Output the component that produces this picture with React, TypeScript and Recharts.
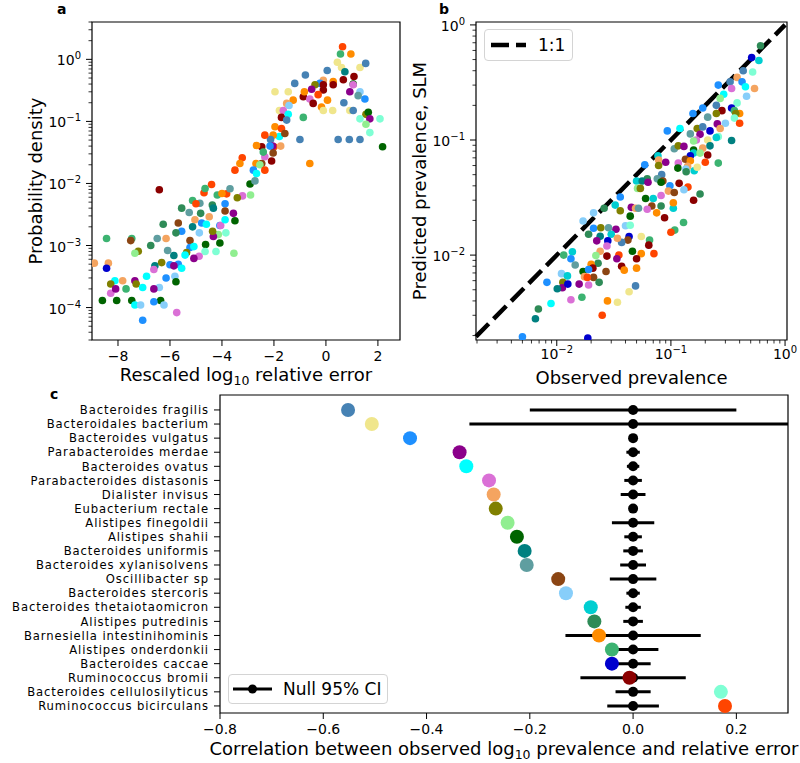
import React from 'react';
import { ScatterChart, Scatter, XAxis, YAxis, ReferenceArea, ReferenceLine, ErrorBar, Legend, Label } from 'recharts';

const FONT = "'DejaVu Sans', sans-serif";

const speciesNames = [
  'Bacteroides fragilis', 'Bacteroidales bacterium', 'Bacteroides vulgatus', 'Parabacteroides merdae',
  'Bacteroides ovatus', 'Parabacteroides distasonis', 'Dialister invisus', 'Eubacterium rectale',
  'Alistipes finegoldii', 'Alistipes shahii', 'Bacteroides uniformis', 'Bacteroides xylanisolvens',
  'Oscillibacter sp', 'Bacteroides stercoris', 'Bacteroides thetaiotaomicron', 'Alistipes putredinis',
  'Barnesiella intestinihominis', 'Alistipes onderdonkii', 'Bacteroides caccae', 'Ruminococcus bromii',
  'Bacteroides cellulosilyticus', 'Ruminococcus bicirculans',
];

const speciesColors = [
  '#4682B4', '#F0E68C', '#1E90FF', '#8B008B', '#00FFFF', '#DA70D6', '#F4A460', '#808000',
  '#90EE90', '#006400', '#008080', '#5F9EA0', '#8B4513', '#87CEFA', '#00CED1', '#2E8B57',
  '#FF8C00', '#3CB371', '#0000CD', '#8B0000', '#7FFFD4', '#FF4500',
];

const correlations = [
  -0.552, -0.506, -0.432, -0.336, -0.323, -0.279, -0.27, -0.266, -0.243, -0.225, -0.21,
  -0.206, -0.145, -0.13, -0.082, -0.075, -0.066, -0.041, -0.041, -0.007, 0.17, 0.178,
];

const nullCenters = [0, 0, 0, 0, 0, 0, 0, 0, 0, 0, 0, 0, 0, 0, 0, 0, 0, 0, 0, 0, 0, 0];

const nullCI = [
  0.2, 0.317, 0.006, 0.013, 0.012, 0.017, 0.024, 0.008, 0.041, 0.017, 0.019,
  0.025, 0.045, 0.013, 0.015, 0.019, 0.131, 0.049, 0.034, 0.102, 0.034, 0.05,
];

// panel a: [rescaled log10 relative error, probability density, species index]
const panelAPoints: [number, number, number][] = [
  [0.64, 1.6, 21], [0.56, 1.22, 17], [0.96, 1.22, 16], [0.44, 0.9, 1], [0.6, 0.74, 1], [1.31, 0.74, 1],
  [1.53, 0.86, 0], [0.73, 0.63, 10], [0.05, 0.66, 0], [-0.79, 0.56, 0], [1.08, 0.53, 19], [1.05, 0.4, 9],
  [0.67, 0.47, 19], [-1.2, 0.41, 0], [-1.96, 0.3, 1], [-1.45, 0.3, 1], [-0.1, 0.46, 6], [-0.23, 0.41, 2],
  [0.28, 0.44, 16], [-0.42, 0.39, 7], [-0.1, 0.39, 19], [0.28, 0.39, 19], [-0.55, 0.33, 3], [-0.1, 0.32, 19],
  [-0.87, 0.25, 19], [-0.62, 0.23, 5], [-0.49, 0.195, 19], [-0.83, 0.3, 16], [-0.3, 0.27, 21], [0.06, 0.22, 16],
  [-0.17, 0.17, 16], [-0.1, 0.15, 1], [0.26, 0.15, 1], [0.92, 0.15, 1], [0.69, 0.2, 0], [1.31, 0.3, 13],
  [1.24, 0.26, 11], [1.5, 0.23, 2], [0.92, 0.3, 3], [1.05, 0.39, 5], [1.05, 0.15, 0], [1.54, 0.13, 7],
  [1.63, 0.14, 9], [1.69, 0.11, 3], [1.31, 0.11, 20], [1.54, 0.09, 8], [2.08, 0.11, 20], [1.69, 0.066, 20],
  [2.18, 0.039, 9], [0.47, 0.051, 0], [0.9, 0.051, 0], [1.31, 0.051, 0], [-1.0, 0.051, 0], [-0.62, 0.021, 16],
  [-0.87, 0.116, 17], [-1.79, 0.15, 1], [-1.26, 0.22, 16], [-1.51, 0.195, 6], [-1.42, 0.18, 13], [-1.64, 0.15, 5],
  [-1.71, 0.116, 19], [-1.45, 0.13, 4], [-1.51, 0.105, 0], [-1.96, 0.082, 16], [-1.71, 0.077, 21], [-1.79, 0.057, 4],
  [-1.58, 0.064, 12], [-2.03, 0.06, 16], [-2.13, 0.051, 0], [-2.0, 0.039, 21], [-2.05, 0.04, 3], [-2.15, 0.04, 2],
  [-1.74, 0.04, 6], [-2.47, 0.039, 19], [-2.35, 0.06, 21], [-2.09, 0.023, 19], [-2.03, 0.031, 12], [-2.67, 0.041, 16],
  [-2.69, 0.021, 16], [-2.35, 0.027, 5], [-2.41, 0.032, 17], [-2.47, 0.021, 12], [-2.54, 0.02, 8], [-3.22, 0.026, 21],
  [-3.31, 0.021, 16], [-3.5, 0.0164, 21], [-2.79, 0.0164, 2], [-2.35, 0.0164, 21], [-2.92, 0.0098, 9], [-2.67, 0.0145, 4],
  [-2.73, 0.011, 11], [-2.9, 0.0065, 8], [-4.4, 0.0096, 21], [-6.41, 0.0079, 19], [-4.69, 0.0071, 21], [-4.18, 0.0065, 17],
  [-3.82, 0.0068, 21], [-4.0, 0.0069, 16], [-3.69, 0.0082, 11], [-3.21, 0.0063, 5], [-3.41, 0.0059, 7], [-5.13, 0.0053, 17],
  [-4.65, 0.0083, 17], [-5.55, 0.004, 15], [-4.85, 0.0048, 11], [-4.37, 0.0045, 15], [-5.0, 0.0047, 21], [-5.26, 0.0034, 11],
  [-4.82, 0.0033, 15], [-3.88, 0.0047, 2], [-4.33, 0.004, 10], [-3.88, 0.0036, 12], [-3.56, 0.0033, 3], [-6.26, 0.0022, 15],
  [-5.68, 0.0023, 12], [-5.04, 0.0026, 6], [-4.78, 0.0023, 2], [-3.5, 0.0025, 9], [-4.49, 0.0029, 6], [-4.6, 0.0022, 4],
  [-4.08, 0.0021, 2], [-5.13, 0.002, 10], [-5.55, 0.0017, 2], [-5.77, 0.0016, 15], [-6.15, 0.0013, 6], [-6.49, 0.0013, 11],
  [-8.44, 0.0013, 17], [-7.47, 0.0013, 17], [-7.51, 0.0012, 12], [-6.74, 0.001, 15], [-7.22, 0.00081, 7], [-7.35, 0.00075, 8],
  [-6.09, 0.00083, 11], [-5.85, 0.00069, 10], [-5.23, 0.0012, 12], [-5.23, 0.00093, 2], [-5.08, 0.00096, 4], [-4.63, 0.00104, 9],
  [-4.08, 0.0011, 9], [-4.14, 0.0015, 8], [-4.33, 0.0014, 3], [-4.87, 0.0016, 13], [-4.36, 0.0017, 7], [-4.05, 0.0021, 5],
  [-3.88, 0.0026, 4], [-3.85, 0.0016, 20], [-4.23, 0.0008, 20], [-3.54, 0.00075, 8], [-4.65, 0.0008, 20], [-5.36, 0.00077, 7],
  [-5.42, 0.0007, 4], [-4.88, 0.00067, 5], [-5.08, 0.00062, 3], [-5.68, 0.0005, 2], [-5.55, 0.00043, 4], [-6.58, 0.00047, 10],
  [-6.62, 0.00041, 5], [-6.32, 0.00053, 7], [-6.0, 0.00049, 2], [-5.85, 0.00047, 3], [-5.81, 0.00032, 13], [-6.15, 0.0003, 2],
  [-5.77, 0.00026, 9], [-6.9, 0.00032, 4], [-8.91, 0.00052, 6], [-8.37, 0.00052, 6], [-8.44, 0.00043, 18], [-8.12, 0.00027, 4],
  [-8.28, 0.00024, 7], [-8.28, 0.00017, 5], [-8.09, 0.0002, 3], [-7.82, 0.00027, 6], [-7.69, 0.0002, 17], [-7.35, 0.00027, 3],
  [-7.3, 0.00024, 7], [-7.05, 0.00021, 4], [-6.41, 0.00021, 13], [-6.62, 0.0002, 3], [-8.6, 0.00013, 9], [-8.05, 0.00013, 9],
  [-7.47, 0.00013, 9], [-7.35, 0.00011, 4], [-7.13, 0.00011, 13], [-6.36, 0.00013, 9], [-6.62, 0.000124, 2], [-6.23, 0.00011, 13],
  [-5.74, 0.000083, 5], [-7.05, 0.0000626, 2],
];

// panel b: [observed prevalence, predicted prevalence, species index]
const panelBPoints: [number, number, number][] = [
  [0.61, 0.66, 15], [0.51, 0.52, 18], [0.59, 0.49, 14], [0.52, 0.39, 20], [0.43, 0.4, 0], [0.38, 0.35, 6],
  [0.42, 0.32, 2], [0.33, 0.32, 0], [0.26, 0.3, 2], [0.45, 0.29, 4], [0.54, 0.28, 6], [0.34, 0.28, 5],
  [0.29, 0.25, 4], [0.46, 0.24, 13], [0.27, 0.23, 8], [0.38, 0.21, 20], [0.19, 0.19, 2], [0.25, 0.2, 0],
  [0.28, 0.18, 19], [0.34, 0.19, 18], [0.36, 0.18, 17], [0.4, 0.17, 16], [0.37, 0.17, 7], [0.36, 0.155, 20],
  [0.4, 0.14, 21], [0.156, 0.17, 2], [0.25, 0.17, 7], [0.21, 0.158, 11], [0.255, 0.138, 3], [0.3, 0.14, 13],
  [0.093, 0.12, 2], [0.12, 0.126, 4], [0.17, 0.126, 7], [0.19, 0.13, 0], [0.22, 0.12, 18], [0.27, 0.126, 6],
  [0.148, 0.113, 11], [0.18, 0.112, 3], [0.167, 0.1, 5], [0.158, 0.098, 8], [0.21, 0.1, 1], [0.26, 0.107, 20],
  [0.25, 0.105, 14], [0.34, 0.099, 10], [0.107, 0.084, 11], [0.116, 0.089, 7], [0.13, 0.088, 3], [0.158, 0.082, 9],
  [0.19, 0.085, 6], [0.22, 0.089, 10], [0.158, 0.077, 14], [0.148, 0.073, 18], [0.18, 0.077, 8], [0.21, 0.074, 19],
  [0.134, 0.068, 12], [0.148, 0.066, 16], [0.077, 0.073, 14], [0.078, 0.067, 6], [0.09, 0.064, 3], [0.116, 0.063, 5],
  [0.2, 0.064, 21], [0.14, 0.059, 6], [0.115, 0.057, 9], [0.078, 0.06, 7], [0.135, 0.056, 13], [0.059, 0.061, 2],
  [0.136, 0.053, 15], [0.16, 0.054, 14], [0.17, 0.058, 1], [0.083, 0.05, 0], [0.26, 0.063, 17], [0.076, 0.046, 11],
  [0.062, 0.046, 15], [0.05, 0.044, 14], [0.056, 0.044, 10], [0.063, 0.043, 3], [0.085, 0.044, 12], [0.082, 0.043, 9],
  [0.098, 0.04, 2], [0.118, 0.042, 19], [0.141, 0.039, 21], [0.18, 0.034, 15], [0.051, 0.038, 8], [0.054, 0.038, 7],
  [0.095, 0.036, 6], [0.107, 0.035, 12], [0.158, 0.03, 19], [0.082, 0.033, 5], [0.13, 0.037, 13], [0.036, 0.032, 2],
  [0.06, 0.031, 9], [0.07, 0.031, 14], [0.0325, 0.0272, 14], [0.026, 0.0255, 15], [0.045, 0.026, 3], [0.049, 0.0255, 6],
  [0.052, 0.0255, 11], [0.068, 0.0267, 12], [0.082, 0.0267, 15], [0.105, 0.0255, 14], [0.062, 0.025, 5], [0.021, 0.0233, 13],
  [0.036, 0.0243, 7], [0.044, 0.0218, 9], [0.075, 0.0233, 16], [0.088, 0.0211, 19], [0.105, 0.0285, 16], [0.017, 0.0198, 13],
  [0.019, 0.0152, 15], [0.021, 0.0171, 2], [0.0243, 0.0173, 7], [0.0284, 0.0173, 11], [0.033, 0.0168, 3], [0.04, 0.018, 13],
  [0.044, 0.0182, 20], [0.03, 0.0152, 14], [0.024, 0.0146, 10], [0.043, 0.0145, 18], [0.042, 0.0135, 12], [0.037, 0.0129, 0],
  [0.034, 0.014, 6], [0.0224, 0.0133, 3], [0.028, 0.0133, 18], [0.055, 0.0145, 1], [0.065, 0.0135, 17], [0.064, 0.0122, 19],
  [0.0275, 0.012, 5], [0.024, 0.0108, 6], [0.046, 0.0108, 9], [0.055, 0.0103, 16], [0.071, 0.0103, 21], [0.108, 0.0165, 17],
  [0.1, 0.0158, 21], [0.129, 0.0192, 17], [0.035, 0.01, 21], [0.0275, 0.0098, 19], [0.022, 0.0099, 8], [0.023, 0.0085, 15],
  [0.0115, 0.01, 17], [0.0137, 0.0107, 14], [0.0133, 0.0093, 2], [0.0145, 0.0082, 11], [0.02, 0.0083, 16], [0.0207, 0.0077, 19],
  [0.017, 0.0072, 9], [0.019, 0.0075, 2], [0.0336, 0.0093, 3], [0.037, 0.008, 19], [0.039, 0.0074, 16], [0.05, 0.0093, 19],
  [0.05, 0.0077, 16], [0.027, 0.0072, 12], [0.011, 0.0069, 13], [0.0124, 0.0066, 14], [0.0113, 0.0058, 7], [0.0112, 0.0052, 3],
  [0.0125, 0.0056, 18], [0.0101, 0.0051, 10], [0.0082, 0.0058, 2], [0.0175, 0.0065, 6], [0.021, 0.0064, 12], [0.0185, 0.0064, 21],
  [0.0235, 0.0058, 15], [0.019, 0.0055, 5], [0.0157, 0.0056, 3], [0.0133, 0.0041, 5], [0.0166, 0.0043, 17], [0.049, 0.0054, 0],
  [0.043, 0.0048, 1], [0.0278, 0.004, 16], [0.034, 0.0039, 1], [0.0089, 0.0038, 4], [0.0069, 0.0034, 15], [0.0065, 0.0028, 10],
  [0.025, 0.003, 21], [0.005, 0.00195, 2], [0.0187, 0.0019, 18],
];

const aXTicks = [-8, -6, -4, -2, 0, 2];
const aYMajor = [1e-4, 1e-3, 1e-2, 1e-1, 1];
const bMajor = [1e-2, 1e-1, 1];
const cXTicks = [-0.8, -0.6, -0.4, -0.2, 0, 0.2];
const mantissas = [2, 3, 4, 5, 6, 7, 8, 9];

const A_X_DOMAIN: [number, number] = [-9, 2.85];
const A_Y_DOMAIN: [number, number] = [3e-5, 4];
const B_X_DOMAIN: [number, number] = [1.96e-3, 1.04];
const B_Y_DOMAIN: [number, number] = [1.83e-3, 1.06];
const C_X_DOMAIN: [number, number] = [-0.8, 0.3];
const C_Y_DOMAIN: [number, number] = [-1.06, 21.5];

function logTicks(major: number[], lo: number, hi: number) {
  const out: number[] = [...major];
  for (let e = -6; e <= 1; e++) {
    for (const m of mantissas) {
      const v = parseFloat((m * Math.pow(10, e)).toPrecision(6));
      if (v >= lo && v <= hi) out.push(v);
    }
  }
  return out.sort((a, b) => a - b);
}

const TS = 6;
const TM = 5;
const TICK_FS = 14;
const LABEL_FS = 18;
const CAT_FS = 11.6;

const expStr = (e: number) => (e < 0 ? '\u2212' + -e : String(e));
const isMajorLog = (v: number) => {
  const l = Math.log10(v);
  return Math.abs(l - Math.round(l)) < 1e-6;
};
const minusFmt = (v: number) => (v < 0 ? '\u2212' : '') + String(Math.abs(v));
const minusFmt1 = (v: number) => (v < 0 ? '\u2212' : '') + Math.abs(v).toFixed(1);

function LogTickBottom(props: any) {
  const { x, y, payload } = props;
  const v = payload.value;
  const major = isMajorLog(v);
  const ay = y - TS - TM;
  const e = Math.round(Math.log10(v));
  return (
    <g>
      <line x1={x} x2={x} y1={ay} y2={ay + (major ? TS : 3.5)} stroke="#000" strokeWidth={major ? 1 : 0.8} />
      {major && (
        <text x={x} y={ay + 19} textAnchor="middle" fontFamily={FONT} fontSize={TICK_FS} fill="#000">
          10<tspan dy={-6} fontSize={10}>{expStr(e)}</tspan>
        </text>
      )}
    </g>
  );
}

function LogTickLeft(props: any) {
  const { x, y, payload } = props;
  const v = payload.value;
  const major = isMajorLog(v);
  const ax = x + TS + TM;
  const e = Math.round(Math.log10(v));
  return (
    <g>
      <line x1={ax - (major ? TS : 3.5)} x2={ax} y1={y} y2={y} stroke="#000" strokeWidth={major ? 1 : 0.8} />
      {major && (
        <text x={ax - TS - TM} y={y + 6} textAnchor="end" fontFamily={FONT} fontSize={TICK_FS} fill="#000">
          10<tspan dy={-6} fontSize={10}>{expStr(e)}</tspan>
        </text>
      )}
    </g>
  );
}

function CategoryTick(props: any) {
  const { x, y, payload } = props;
  const name = speciesNames[payload.value] ?? '';
  const ax = x + TS + TM;
  return (
    <g>
      <line x1={ax - TS} x2={ax} y1={y} y2={y} stroke="#000" strokeWidth={1} />
      <text x={ax - TS - TM} y={y} dy="0.36em" textAnchor="end" fontFamily={FONT} fontSize={CAT_FS} letterSpacing={0.9} fill="#000">
        {name}
      </text>
    </g>
  );
}

const tickStyle = { fontSize: TICK_FS, fontFamily: FONT, fill: '#000' };

function xLabel(parts: { pre: string; sub?: string; post?: string }, dyBase: number, fallback: { x: number; y: number }) {
  return (p: any) => {
    const vb = p && p.viewBox;
    const cx = vb ? vb.x + vb.width / 2 : fallback.x;
    const cy = vb ? vb.y + dyBase : fallback.y;
    return (
      <text x={cx} y={cy} textAnchor="middle" fontFamily={FONT} fontSize={LABEL_FS} fill="#000">
        {parts.pre}
        {parts.sub && (
          <tspan dy={4} fontSize={12.5}>
            {parts.sub}
          </tspan>
        )}
        {parts.post && <tspan dy={parts.sub ? -4 : 0}>{parts.post}</tspan>}
      </text>
    );
  };
}

function yLabel(text: string, baseX: number, fallback: { x: number; y: number }) {
  return (p: any) => {
    const vb = p && p.viewBox;
    const cx = vb ? vb.x + baseX : fallback.x;
    const cy = vb ? vb.y + vb.height / 2 : fallback.y;
    return (
      <text x={cx} y={cy} transform={`rotate(-90, ${cx}, ${cy})`} textAnchor="middle" fontFamily={FONT} fontSize={LABEL_FS} fill="#000">
        {text}
      </text>
    );
  };
}

const dotShape = (p: any) => <circle cx={p.cx} cy={p.cy} r={3.8} fill={speciesColors[p.payload.s]} />;

function OneToOneLegend() {
  return (
    <div
      style={{
        width: 89, height: 32, boxSizing: 'border-box', border: '1px solid #d4d4d4', borderRadius: 4,
        background: 'rgba(255,255,255,0.85)', display: 'flex', alignItems: 'center', fontFamily: FONT, fontSize: 17, color: '#000',
      }}
    >
      <svg width={53} height={30} style={{ display: 'block' }}>
        <line x1={6} x2={41} y1={15} y2={15} stroke="#000" strokeWidth={4.5} strokeDasharray="18 7" />
      </svg>
      <span>1:1</span>
    </div>
  );
}

function NullLegend() {
  return (
    <div
      style={{
        width: 160, height: 30, boxSizing: 'border-box', border: '1px solid #d4d4d4', borderRadius: 4,
        background: 'rgba(255,255,255,0.85)', display: 'flex', alignItems: 'center', fontFamily: FONT, fontSize: 17, color: '#000',
      }}
    >
      <svg width={54} height={28} style={{ display: 'block' }}>
        <line x1={4} x2={43} y1={14} y2={14} stroke="#000" strokeWidth={3} />
        <circle cx={23.5} cy={14} r={4.5} fill="#000" />
      </svg>
      <span>Null 95% CI</span>
    </div>
  );
}

export default function App() {
  const aData = panelAPoints.map(([x, y, s]) => ({ x, y, s }));
  const bData = panelBPoints.map(([x, y, s]) => ({ x, y, s }));
  const corrData = speciesNames.map((_, i) => ({ x: correlations[i], y: i, s: i }));
  // error extents, with the upper side cut at the axis edge (as the reference clips it)
  const nullData = speciesNames.map((_, i) => ({
    x: nullCenters[i],
    y: i,
    ci: [nullCI[i], Math.min(nullCI[i], C_X_DOMAIN[1] - nullCenters[i])],
  }));
  const aYTicks = logTicks(aYMajor, A_Y_DOMAIN[0], A_Y_DOMAIN[1]);
  const bXTicks = logTicks(bMajor, B_X_DOMAIN[0], B_X_DOMAIN[1]);
  const bYTicks = logTicks(bMajor, B_Y_DOMAIN[0], B_Y_DOMAIN[1]);
  const cYTicks = speciesNames.map((_, i) => i);

  return (
    <div style={{ position: 'absolute', left: 0, top: 0, width: 800, height: 763, background: '#fff', fontFamily: FONT }}>
      {/* Panel a */}
      <div style={{ position: 'absolute', left: 0, top: 0 }}>
        <ScatterChart width={410} height={390} margin={{ top: 22, right: 10, left: 0, bottom: 0 }}>
          <XAxis
            type="number" dataKey="x" domain={A_X_DOMAIN} ticks={aXTicks} allowDataOverflow interval={0}
            axisLine={false} tickSize={TS} tickMargin={TM} tickLine={{ stroke: '#000' }} tick={tickStyle}
            tickFormatter={minusFmt} height={50}
            label={<Label content={xLabel({ pre: 'Rescaled log', sub: '10', post: ' relative error' }, 41, { x: 246, y: 381 })} />}
          />
          <YAxis
            type="number" dataKey="y" scale="log" domain={A_Y_DOMAIN} ticks={aYTicks} allowDataOverflow interval={0}
            axisLine={false} tickLine={false} tickSize={TS} tickMargin={TM} tick={<LogTickLeft />} width={92}
            label={<Label content={yLabel('Probability density', 42.4, { x: 42.4, y: 181 })} />}
          />
          <Scatter data={aData} isAnimationActive={false} shape={dotShape} />
          <ReferenceArea x1={A_X_DOMAIN[0]} x2={A_X_DOMAIN[1]} y1={A_Y_DOMAIN[0]} y2={A_Y_DOMAIN[1]} fill="none" stroke="#000" strokeWidth={1.2} ifOverflow="visible" />
        </ScatterChart>
      </div>

      {/* Panel b */}
      <div style={{ position: 'absolute', left: 400, top: 0 }}>
        <ScatterChart width={400} height={390} margin={{ top: 22, right: 13, left: 0, bottom: 0 }}>
          <XAxis
            type="number" dataKey="x" scale="log" domain={B_X_DOMAIN} ticks={bXTicks} allowDataOverflow interval={0}
            axisLine={false} tickLine={false} tickSize={TS} tickMargin={TM} tick={<LogTickBottom />} height={50}
            label={<Label content={xLabel({ pre: 'Observed prevalence' }, 44, { x: 231, y: 384 })} />}
          />
          <YAxis
            type="number" dataKey="y" scale="log" domain={B_Y_DOMAIN} ticks={bYTicks} allowDataOverflow interval={0}
            axisLine={false} tickLine={false} tickSize={TS} tickMargin={TM} tick={<LogTickLeft />} width={76}
            label={<Label content={yLabel('Predicted prevalence, SLM', 25.5, { x: 25.5, y: 181 })} />}
          />
          <ReferenceLine
            segment={[{ x: 0.00196, y: 0.00196 }, { x: 1.0, y: 1.0 }]}
            stroke="#000" strokeWidth={4.5} strokeDasharray="18 7"
          />
          <Scatter data={bData} isAnimationActive={false} shape={dotShape} />
          <ReferenceArea x1={B_X_DOMAIN[0]} x2={B_X_DOMAIN[1]} y1={B_Y_DOMAIN[0]} y2={B_Y_DOMAIN[1]} fill="none" stroke="#000" strokeWidth={1.2} ifOverflow="visible" />
          <Legend
            layout="horizontal" verticalAlign="middle" align="center"
            wrapperStyle={{ left: 84, top: 29, width: 89, height: 32 }}
            content={() => <OneToOneLegend />}
          />
        </ScatterChart>
      </div>

      {/* Panel c */}
      <div style={{ position: 'absolute', left: 0, top: 385 }}>
        <ScatterChart width={800} height={378} margin={{ top: 10, right: 12, left: 0, bottom: 0 }}>
          <XAxis
            type="number" dataKey="x" domain={C_X_DOMAIN} ticks={cXTicks} allowDataOverflow interval={0}
            axisLine={false} tickSize={TS} tickMargin={TM} tickLine={{ stroke: '#000' }} tick={tickStyle}
            tickFormatter={minusFmt1} height={50}
            label={<Label content={xLabel({ pre: 'Correlation between observed log', sub: '10', post: ' prevalence and relative error' }, 42, { x: 504, y: 370 })} />}
          />
          <YAxis
            type="number" dataKey="y" domain={C_Y_DOMAIN} reversed ticks={cYTicks} allowDataOverflow interval={0}
            axisLine={false} tickLine={false} tickSize={TS} tickMargin={TM} tick={<CategoryTick />} width={220}
          />
          <Scatter
            data={nullData} isAnimationActive={false}
            shape={(p: any) => <circle cx={p.cx} cy={p.cy} r={5} fill="#000" />}
          >
            <ErrorBar dataKey="ci" direction="x" width={0} stroke="#000" strokeWidth={3} isAnimationActive={false} />
          </Scatter>
          <Scatter
            data={corrData} isAnimationActive={false}
            shape={(p: any) => <circle cx={p.cx} cy={p.cy} r={7} fill={speciesColors[p.payload.s]} />}
          />
          <ReferenceArea x1={C_X_DOMAIN[0]} x2={C_X_DOMAIN[1]} y1={C_Y_DOMAIN[0]} y2={C_Y_DOMAIN[1]} fill="none" stroke="#000" strokeWidth={1.2} ifOverflow="visible" />
          <Legend
            layout="horizontal" verticalAlign="middle" align="center"
            wrapperStyle={{ left: 228, top: 289, width: 160, height: 30 }}
            content={() => <NullLegend />}
          />
        </ScatterChart>
      </div>

      {/* Panel letters */}
      <svg width={800} height={763} style={{ position: 'absolute', left: 0, top: 0, pointerEvents: 'none' }}>
        <text x={57} y={14} fontFamily={FONT} fontWeight="bold" fontSize={14} fill="#000">a</text>
        <text x={439} y={14} fontFamily={FONT} fontWeight="bold" fontSize={14} fill="#000">b</text>
        <text x={50} y={399} fontFamily={FONT} fontWeight="bold" fontSize={14} fill="#000">c</text>
      </svg>
    </div>
  );
}
